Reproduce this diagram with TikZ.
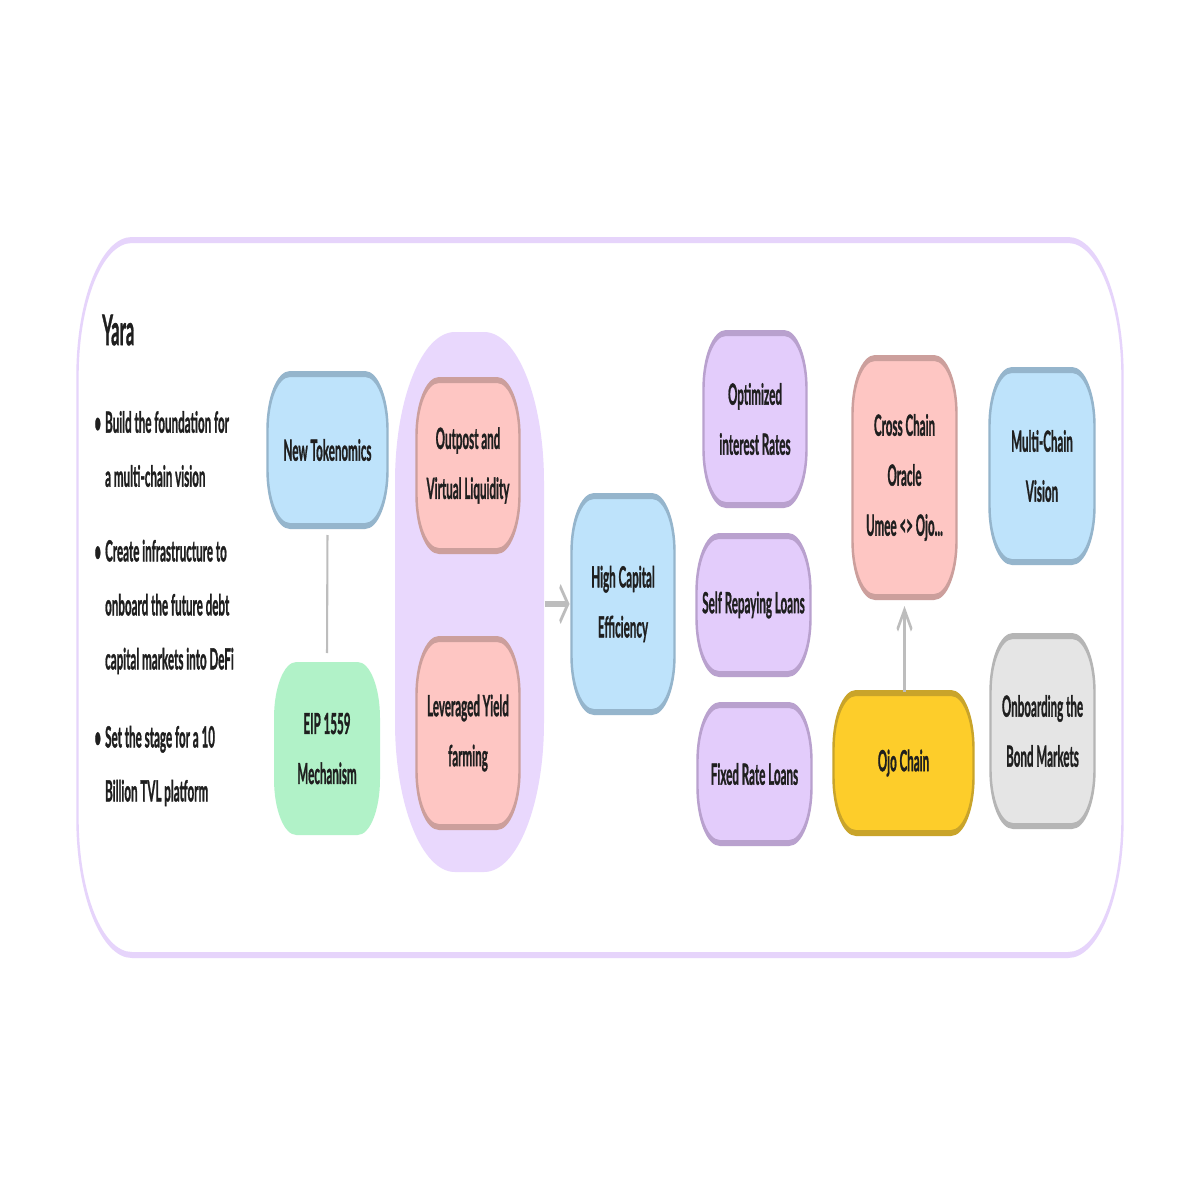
\documentclass[tikz,border=0pt]{standalone}
\usepackage{fontspec}
\setmainfont{Lato}[BoldFeatures={FakeBold=1.6}]
\usetikzlibrary{arrows.meta}
\definecolor{txt}{HTML}{1F1F1F}
\definecolor{frameC}{HTML}{E6D4FB}
\definecolor{grpC}{HTML}{E9D8FD}
\definecolor{blueF}{HTML}{BEE3FB}\definecolor{blueD}{HTML}{95B5CC}
\definecolor{greenF}{HTML}{B1F2C8}
\definecolor{pinkF}{HTML}{FEC6C3}\definecolor{pinkD}{HTML}{CC9F9C}
\definecolor{purpF}{HTML}{E3CCFB}\definecolor{purpD}{HTML}{B9A1CE}
\definecolor{yelF}{HTML}{FDCD2A}\definecolor{yelD}{HTML}{C9A42A}
\definecolor{grayF}{HTML}{E5E5E5}\definecolor{grayD}{HTML}{B5B5B5}
\definecolor{connC}{HTML}{BDBDBD}
\begin{document}
\begin{tikzpicture}[x=0.5pt,y=-0.5pt]
\fill[white] (0,0) rectangle (1200,1200);
\useasboundingbox (0,0) rectangle (1200,1200);
\begin{scope}[overlay, transform canvas={xscale=0.4}, x=1.25pt, y=-0.5pt,
  bw/.style={minimum width=#1*1.25pt},
  bh/.style={minimum height=#1*0.5pt},
  box/.style={rectangle, rounded corners=28pt, line width=3pt, align=center,
    inner sep=0pt, text=txt, font=\fontsize{14.5}{25}\selectfont\bfseries},
  blue/.style={box, fill=blueF, draw=blueD},
  green/.style={box, fill=greenF},
  pink/.style={box, fill=pinkF, draw=pinkD},
  purp/.style={box, fill=purpF, draw=purpD},
  yel/.style={box, fill=yelF, draw=yelD},
  gray/.style={box, fill=grayF, draw=grayD},
  btxt/.style={align=left, inner sep=0pt, text=txt, font=\fontsize{14.5}{27}\selectfont\bfseries},
  link/.style={draw=connC, line width=2.6pt},
  arr/.style={draw=connC, line width=2.6pt, -{Straight Barb[length=10pt,width=18pt]}}
]
% frame
\node[rectangle, rounded corners=68pt, draw=frameC, fill=white, line width=3pt, bw=1045, bh=715] (frame) at (600,597.5) {};
% group container
\node[rectangle, rounded corners=75pt, fill=grpC, bw=149, bh=540] (grp) at (469.5,602) {};
% title and bullets
\node[btxt, anchor=west, font=\fontsize{21}{24}\selectfont\bfseries] (yara) at (102,330) {Yara};
\node[btxt, anchor=west] (b1) at (105,449) {\llap{•\hspace{5pt}}Build the foundation for\\a multi-chain vision};
\node[btxt, anchor=west] (b2) at (105,607) {\llap{•\hspace{5pt}}Create infrastructure to\\onboard the future debt\\capital markets into DeFi};
\node[btxt, anchor=west] (b3) at (105,766) {\llap{•\hspace{5pt}}Set the stage for a 10\\Billion TVL platform};
% nodes
\node[blue, bw=120, bh=152] (nt) at (327.5,450) {New Tokenomics};
\node[green, bw=106, bh=173] (eip) at (327,748.5) {EIP 1559\\Mechanism};
\node[pink, bw=103, bh=171] (op) at (468,465.5) {Outpost and\\Virtual Liquidity};
\node[pink, bw=103, bh=188] (lev) at (468,733) {Leveraged Yield\\farming};
\node[blue, bw=103, bh=216] (hc) at (623,604) {High Capital\\Efficiency};
\node[purp, bw=103, bh=172] (opt) at (755,419) {Optimized\\interest Rates};
\node[purp, bw=114, bh=138] (self) at (753.5,605) {Self Repaying Loans};
\node[purp, bw=114, bh=138] (fixed) at (754.5,774) {Fixed Rate Loans};
\node[pink, bw=104, bh=239] (cc) at (904.5,477.5) {Cross Chain\\Oracle\\Umee <> Ojo...};
\node[yel, bw=140, bh=140] (ojo) at (903.5,763) {Ojo Chain};
\node[blue, bw=105, bh=192] (mcv) at (1042,466) {Multi-Chain\\Vision};
\node[gray, bw=104, bh=190] (bond) at (1042.5,731) {Onboarding the\\Bond Markets};
% connectors
\draw[link, shorten <=3pt, shorten >=3pt] (nt.south) -- (eip.north);
\draw[arr, shorten <=1pt, shorten >=1pt] (grp.east |- hc.west) -- (hc.west);
\draw[arr, shorten <=-1pt, shorten >=3pt] (ojo.north -| cc.south) -- (cc.south);
\end{scope}
\end{tikzpicture}
\end{document}
